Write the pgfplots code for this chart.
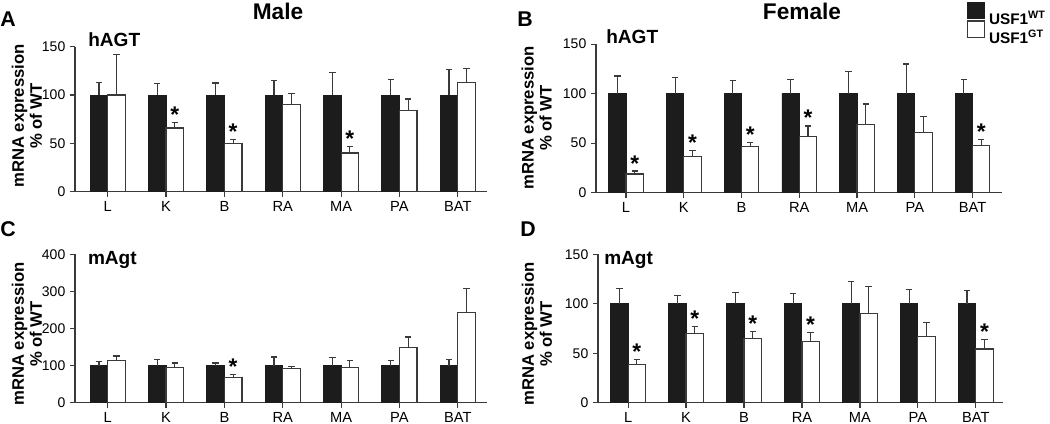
\documentclass[border=0pt]{standalone}
\usepackage{pgfplots}
\pgfplotsset{compat=1.18}
\usepackage{pgfplotstable}
\usetikzlibrary{plotmarks}
\usepackage{fontspec}
\setmainfont{Liberation Sans}
\definecolor{barblack}{HTML}{1C1C1C}
\definecolor{linegray}{HTML}{3A3A3A}

% Male hAGT
\pgfplotstableread{
x WT WTe GT GTe
0 100 13.0 100.0 42.0
1 100 11.7 66.0 6.0
2 100 12.4 50.3 3.7
3 100 14.8 90.3 11.4
4 100 23.4 40.0 6.6
5 100 15.9 83.8 12.1
6 100 26.2 113.1 14.1
}\dataA
\pgfplotstableread{
x y
1.15 72.0
2.15 54.0
4.15 46.6
}\starsA
% Female hAGT
\pgfplotstableread{
x WT WTe GT GTe
0 100 17.8 18.8 3.0
1 100 16.4 36.2 6.1
2 100 13.1 46.3 4.0
3 100 14.1 56.7 10.7
4 100 22.5 68.8 20.8
5 100 29.9 60.7 16.5
6 100 14.4 47.3 6.7
}\dataB
\pgfplotstableread{
x y
0.15 21.8
1.15 42.3
2.15 50.3
3.15 67.4
6.15 54.0
}\starsB
% Male mAgt
\pgfplotstableread{
x WT WTe GT GTe
0 100 11.9 114.5 11.5
1 100 16.0 94.0 13.0
2 100 7.0 68.0 7.0
3 100 23.0 92.0 6.0
4 100 21.5 94.6 20.0
5 100 13.6 147.7 29.5
6 100 16.0 244.0 64.0
}\dataC
\pgfplotstableread{
x y
2.15 75.0
}\starsC
% Female mAgt
\pgfplotstableread{
x WT WTe GT GTe
0 100 15.7 38.5 5.0
1 100 8.7 69.9 7.4
2 100 11.7 64.5 7.1
3 100 10.7 62.2 8.4
4 100 22.4 90.3 27.1
5 100 14.7 67.2 13.7
6 100 13.4 54.2 9.3
}\dataD
\pgfplotstableread{
x y
0.15 43.5
1.15 77.3
2.15 71.6
3.15 70.6
6.15 63.5
}\starsD

\pgfplotsset{
  panel/.style={
    scale only axis,
    axis x line*=bottom, axis y line*=left,
    axis line style={draw=linegray, line width=1pt},
    xtick={0,...,6}, xticklabels={L,K,B,RA,MA,PA,BAT},
    tick style={draw=linegray, line width=0.9pt},
    tick align=outside,
    major tick length=3.75pt,
    xticklabel style={font=\fontsize{11}{11}\selectfont, inner sep=0pt, yshift=-3pt},
    yticklabel style={font=\fontsize{10.5}{10.5}\selectfont},
    /pgf/number format/assume math mode=true,
    ymin=0, clip=false,
  },
  wtbar/.style={ybar, bar width=0.3, bar shift=0pt, fill=barblack, draw=barblack, line width=0.7pt,
    legend image code/.code={\draw[fill=barblack, draw=barblack, line width=0.7pt] (0pt,0pt) rectangle (12.4pt,12.4pt);}},
  gtbar/.style={ybar, bar width=0.3, bar shift=0pt, fill=white, draw=linegray, line width=0.9pt,
    legend image code/.code={\draw[fill=white, draw=linegray, line width=0.9pt] (0pt,0pt) rectangle (12.4pt,12.4pt);}},
  errplot/.style={draw=none, mark=none, forget plot,
    error bars/y dir=plus, error bars/y explicit,
    error bars/error mark=|,
    error bars/error bar style={draw=linegray, line width=0.9pt},
    error bars/error mark options={draw=linegray, line width=0.9pt, mark size=2.4pt}},
  starplot/.style={draw=none, mark=none, forget plot, nodes near coords={*},
    every node near coord/.style={anchor=base, inner sep=0pt, text=black, font=\bfseries\fontsize{17}{17}\selectfont}},
}

\begin{document}
\begin{tikzpicture}
\useasboundingbox (0pt,0pt) rectangle (787.5pt,318pt);

% Panel A
\begin{axis}[panel, at={(56.25pt,174.2pt)}, anchor=south west, width=309pt, height=108.75pt,
  xmin=-0.56, xmax=6.5, ymax=150, ytick={0,50,100,150}]
\addplot[wtbar] table[x expr=\thisrow{x}-0.15, y=WT] {\dataA};
\addplot[gtbar] table[x expr=\thisrow{x}+0.15, y=GT] {\dataA};
\addplot[errplot] table[x expr=\thisrow{x}-0.15, y=WT, y error=WTe] {\dataA};
\addplot[errplot] table[x expr=\thisrow{x}+0.15, y=GT, y error=GTe] {\dataA};
\addplot[starplot] table[x=x, y=y] {\starsA};
\end{axis}

% Panel B
\begin{axis}[panel, at={(447pt,173.5pt)}, anchor=south west, width=304.5pt, height=111.4pt,
  xmin=-0.52, xmax=6.51, ymax=150, ytick={0,50,100,150},
  legend style={at={(axis description cs:0.9138,1.286)}, anchor=north west, draw=none, fill=none,
    inner sep=0pt, row sep=-4.6pt, font=\bfseries\fontsize{11.5}{11.5}\selectfont,
    nodes={inner sep=0pt}, /tikz/every odd column/.style={column sep=3pt}},
  legend cell align=left]
\addplot[wtbar] table[x expr=\thisrow{x}-0.15, y=WT] {\dataB};
\addplot[gtbar] table[x expr=\thisrow{x}+0.15, y=GT] {\dataB};
\addplot[errplot] table[x expr=\thisrow{x}-0.15, y=WT, y error=WTe] {\dataB};
\addplot[errplot] table[x expr=\thisrow{x}+0.15, y=GT, y error=GTe] {\dataB};
\addplot[starplot] table[x=x, y=y] {\starsB};
\legend{USF1\textsuperscript{WT}, USF1\textsuperscript{GT}}
\end{axis}

% Panel C
\begin{axis}[panel, at={(56.25pt,16pt)}, anchor=south west, width=309pt, height=111.3pt,
  xmin=-0.56, xmax=6.5, ymax=400, ytick={0,100,200,300,400}]
\addplot[wtbar] table[x expr=\thisrow{x}-0.15, y=WT] {\dataC};
\addplot[gtbar] table[x expr=\thisrow{x}+0.15, y=GT] {\dataC};
\addplot[errplot] table[x expr=\thisrow{x}-0.15, y=WT, y error=WTe] {\dataC};
\addplot[errplot] table[x expr=\thisrow{x}+0.15, y=GT, y error=GTe] {\dataC};
\addplot[starplot] table[x=x, y=y] {\starsC};
\end{axis}

% Panel D
\begin{axis}[panel, at={(448.5pt,16pt)}, anchor=south west, width=303.75pt, height=111.3pt,
  xmin=-0.52, xmax=6.47, ymax=150, ytick={0,50,100,150}]
\addplot[wtbar] table[x expr=\thisrow{x}-0.15, y=WT] {\dataD};
\addplot[gtbar] table[x expr=\thisrow{x}+0.15, y=GT] {\dataD};
\addplot[errplot] table[x expr=\thisrow{x}-0.15, y=WT, y error=WTe] {\dataD};
\addplot[errplot] table[x expr=\thisrow{x}+0.15, y=GT, y error=GTe] {\dataD};
\addplot[starplot] table[x=x, y=y] {\starsD};
\end{axis}

% Panel letters and titles
\node[anchor=base west, inner sep=0pt, font=\bfseries\fontsize{16}{16}\selectfont] at (0pt,297.75pt) {A};
\node[anchor=base west, inner sep=0pt, font=\bfseries\fontsize{16}{16}\selectfont] at (387.75pt,297.75pt) {B};
\node[anchor=base west, inner sep=0pt, font=\bfseries\fontsize{16}{16}\selectfont] at (0pt,140.5pt) {C};
\node[anchor=base west, inner sep=0pt, font=\bfseries\fontsize{16}{16}\selectfont] at (390pt,140.5pt) {D};
\node[anchor=base, inner sep=0pt, font=\bfseries\fontsize{17}{17}\selectfont] at (208.5pt,303pt) {Male};
\node[anchor=base, inner sep=0pt, font=\bfseries\fontsize{17}{17}\selectfont] at (601.5pt,303pt) {Female};

\node[anchor=base west, inner sep=0pt, font=\bfseries\fontsize{14.3}{14.3}\selectfont] at (66pt,283pt) {hAGT};
\node[anchor=base west, inner sep=0pt, font=\bfseries\fontsize{14.3}{14.3}\selectfont] at (454.5pt,285pt) {hAGT};
\node[anchor=base west, inner sep=0pt, font=\bfseries\fontsize{14.3}{14.3}\selectfont] at (65.8pt,119.25pt) {mAgt};
\node[anchor=base west, inner sep=0pt, font=\bfseries\fontsize{14.3}{14.3}\selectfont] at (453pt,119.25pt) {mAgt};

\node[rotate=90, align=center, inner sep=0pt, font=\bfseries\fontsize{12.5}{13.5}\selectfont] at (20.25pt,231pt) {mRNA expression\\\% of WT};
\node[rotate=90, align=center, inner sep=0pt, font=\bfseries\fontsize{12.5}{13.5}\selectfont] at (402.5pt,229.5pt) {mRNA expression\\\% of WT};
\node[rotate=90, align=center, inner sep=0pt, font=\bfseries\fontsize{12.5}{13.5}\selectfont] at (20.25pt,67.5pt) {mRNA expression\\\% of WT};
\node[rotate=90, align=center, inner sep=0pt, font=\bfseries\fontsize{12.5}{13.5}\selectfont] at (402.75pt,67.5pt) {mRNA expression\\\% of WT};
\end{tikzpicture}
\end{document}
